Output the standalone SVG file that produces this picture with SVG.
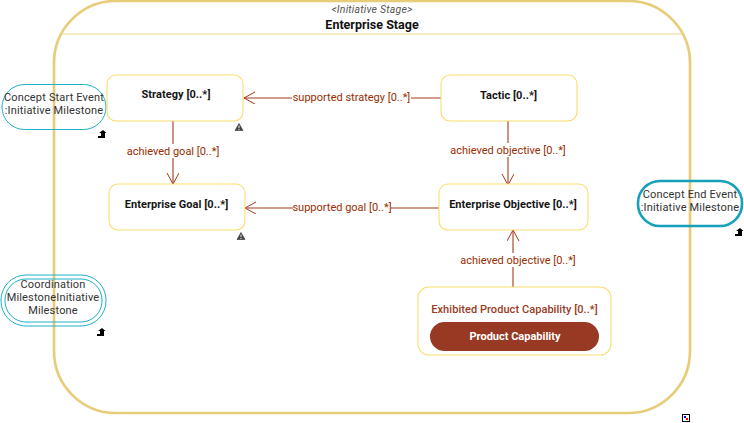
<svg xmlns="http://www.w3.org/2000/svg" width="744" height="423" viewBox="0 0 744 423">
<style>
text{font-family:Roboto,"Liberation Sans",sans-serif;text-anchor:middle}
.part{fill:#fff;stroke:#fbdc6e;stroke-width:1.1}
.pn{font-size:11px;font-weight:700;fill:#151515;letter-spacing:.05px}
.ev{font-size:11px;fill:#333;letter-spacing:.17px}
.cl{font-size:11px;fill:#992d00}
.con{fill:none;stroke:#a8391a;stroke-width:1.1}
.ms{fill:none;stroke:#1eb1c9;stroke-width:1}
.lb{fill:#fff}
</style>
<defs>
<marker id="arr" markerUnits="userSpaceOnUse" markerWidth="14" markerHeight="14" refX="11" refY="6" orient="auto"><path d="M0 0L11 6L0 12" fill="none" stroke="#a8391a" stroke-width="1"/></marker>
<g id="up"><path d="M-4 2H-1V-1H-3L1-4L4.500-1H3V4H-4Z" fill="#000"/></g>
<g id="warn"><path d="M-4 3.500L0-3.500L4 3.500Z" fill="#444" stroke="#333" stroke-width=".6"/><path d="M0-1.500V1.200M0 2V3" stroke="#fff" stroke-width=".9"/></g>
</defs>
<g id="stage">
<rect x="54" y="1" width="636" height="412" rx="62" fill="#fff" stroke="#e7cd79" stroke-width="2.700"/>
<line x1="62" y1="34" x2="682" y2="34" stroke="#f2e4b0" stroke-width="1.500"/>
<text x="372" y="13" font-size="10.500" font-style="italic" fill="#555" letter-spacing=".2">&lt;Initiative Stage&gt;</text>
<text x="372" y="29" font-size="12.500" font-weight="700" fill="#111">Enterprise Stage</text>
</g>
<g id="start-event"><rect x="2" y="84.500" width="104" height="45" rx="22.500" class="ms"/><text class="ev" x="54" y="101">Concept Start Event</text><text class="ev" x="54" y="114">:Initiative Milestone</text><use href="#up" x="102" y="134"/></g>
<g id="coordination"><rect x="1" y="275" width="105" height="51" rx="25" class="ms"/><rect x="5" y="279" width="97" height="43" rx="21" class="ms"/><text class="ev" x="53" y="288">Coordination</text><text class="ev" x="53" y="301">MilestoneInitiative</text><text class="ev" x="53" y="314">Milestone</text><use href="#up" x="101" y="332"/></g>
<g id="end-event"><rect x="638" y="181" width="104" height="45" rx="22" fill="none" stroke="#16a0bb" stroke-width="2.600"/><text class="ev" x="690" y="198">Concept End Event</text><text class="ev" x="690" y="211">:Initiative Milestone</text><use href="#up" x="739" y="232"/></g>
<g id="connectors">
<path class="con" d="M173 121V184" marker-end="url(#arr)"/>
<path class="con" d="M441 98H244" marker-end="url(#arr)"/>
<path class="con" d="M508 121V185" marker-end="url(#arr)"/>
<path class="con" d="M439 208H245" marker-end="url(#arr)"/>
<path class="con" d="M513 287V230" marker-end="url(#arr)"/>
<rect class="lb" x="126" y="144" width="93" height="14"/><text class="cl" x="173" y="155">achieved goal [0..*]</text>
<rect class="lb" x="292" y="91" width="119" height="14"/><text class="cl" x="351.500" y="101">supported strategy [0..*]</text>
<rect class="lb" x="450" y="143" width="116" height="14"/><text class="cl" x="508" y="154">achieved objective [0..*]</text>
<rect class="lb" x="293" y="200" width="98" height="14"/><text class="cl" x="342" y="211">supported goal [0..*]</text>
<rect class="lb" x="460" y="253" width="116" height="14"/><text class="cl" x="518" y="264">achieved objective [0..*]</text>
</g>
<g id="strategy"><rect class="part" x="107" y="75" width="136" height="46" rx="9"/><text class="pn" x="176" y="98">Strategy [0..*]</text><use href="#warn" x="239" y="127"/></g>
<g id="tactic"><rect class="part" x="441" y="75" width="136" height="46" rx="9"/><text class="pn" x="508.500" y="99">Tactic [0..*]</text></g>
<g id="goal"><rect class="part" x="109" y="184" width="136" height="46" rx="9"/><text class="pn" x="176.500" y="208">Enterprise Goal [0..*]</text><use href="#warn" x="241" y="236"/></g>
<g id="objective"><rect class="part" x="439" y="184" width="149" height="46" rx="9"/><text class="pn" x="513" y="208">Enterprise Objective [0..*]</text></g>
<g id="capability"><rect class="part" x="418" y="287" width="193" height="68" rx="11"/><text x="514.500" y="313" font-size="11" font-weight="500" fill="#9c3a22" letter-spacing=".06">Exhibited Product Capability [0..*]</text><rect x="430" y="322" width="169" height="29" rx="14.500" fill="#983a23"/><text x="515" y="340" font-size="11" font-weight="700" fill="#fff">Product Capability</text></g>
<g id="corner-icon"><rect x="682.500" y="414.500" width="7" height="7" fill="#fff" stroke="#000"/><rect x="684" y="416" width="2" height="2" fill="#00f"/><rect x="686" y="418" width="2" height="2" fill="#f00"/></g>
</svg>
